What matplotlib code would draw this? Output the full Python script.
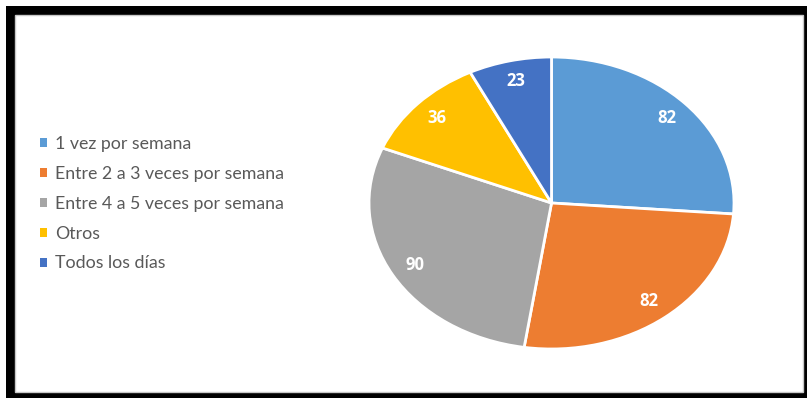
import matplotlib.pyplot as plt
from matplotlib.patches import Rectangle

categories = ["1 vez por semana", "Entre 2 a 3 veces por semana",
              "Entre 4 a 5 veces por semana", "Otros", "Todos los días"]
values = [82, 82, 90, 36, 23]
colors = ["#5B9BD5", "#ED7D31", "#A5A5A5", "#FFC000", "#4472C4"]

W, H = 807, 398
fig = plt.figure(figsize=(W / 100, H / 100), dpi=100, facecolor="white")

# marco negro con sombra y área blanca interior
fig.patches.append(Rectangle((6 / W, 0), 1 - 6 / W, 392 / H, transform=fig.transFigure,
                             facecolor="black", edgecolor="none", zorder=0))
fig.patches.append(Rectangle((15 / W, 6 / H), 788 / W, 377 / H, transform=fig.transFigure,
                             facecolor="white", edgecolor="#C8C8C8", linewidth=1, zorder=1))

# pastel (ligeramente ovalado)
ax = fig.add_axes([369 / W, (H - 349) / H, 365 / W, 292 / H])
total = sum(values)
wedges, _, autotexts = ax.pie(
    values, colors=colors, startangle=90, counterclock=False,
    autopct=lambda p: f"{round(p * total / 100)}", pctdistance=0.86,
    wedgeprops=dict(edgecolor="white", linewidth=2),
    textprops=dict(color="white", fontsize=12, fontweight="bold", family="Open Sans"),
)
ax.set_aspect("auto")
ax.set_xlim(-1, 1)
ax.set_ylim(-1, 1)
ax.set_zorder(2)

handles = [Rectangle((0, 0), 1, 1, facecolor=c, edgecolor="none") for c in colors]
leg = fig.legend(handles, categories, loc="upper left",
                 bbox_to_anchor=(24 / W, (H - 120) / H), frameon=False,
                 handlelength=0.42, handleheight=0.42, handletextpad=0.45,
                 labelspacing=0.78, prop=dict(family="Lato", size=12.8))
for t in leg.get_texts():
    t.set_color("#595959")

fig.savefig("out.png", dpi=100, facecolor="white")
